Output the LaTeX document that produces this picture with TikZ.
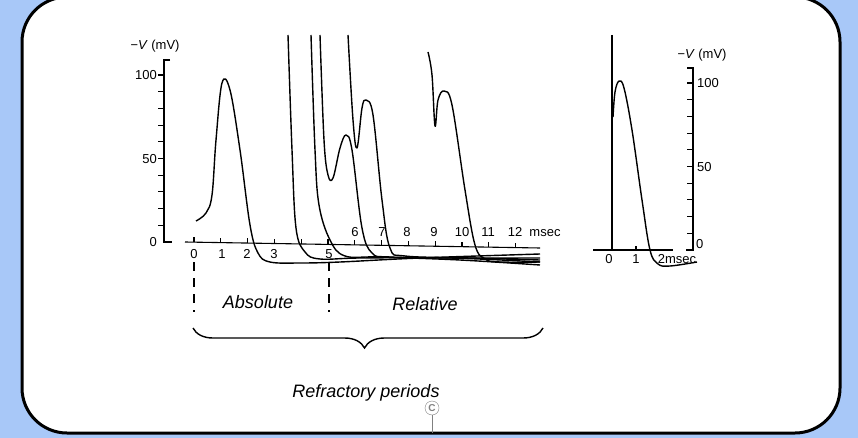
\documentclass[tikz,border=0pt]{standalone}
\usepackage{fontspec}
\setmainfont{Liberation Sans}
\usetikzlibrary{decorations.pathreplacing}
\definecolor{bgblue}{HTML}{A8C8F8}
\begin{document}
\begin{tikzpicture}[x=1pt,y=-1pt,
  curve/.style={line width=1.4pt,line join=round},
  axis/.style={line width=1.1pt},
  lab/.style={font=\fontsize{13}{13}\selectfont,inner sep=0pt},
  big/.style={font=\fontsize{18}{18}\selectfont\itshape,inner sep=0pt}]
\useasboundingbox (0,0) rectangle (858,438);
\fill[bgblue] (0,0) rectangle (858,438);
\draw[line width=3pt,fill=white,rounded corners=45pt] (22,-3) rectangle (840,433);
% left axes
\draw[axis] (170,60) -- (164,60) -- (164,242) -- (172,242);
\foreach \v in {10,20,...,100} \draw[axis] (164,{242-1.67*\v}) -- (158,{242-1.67*\v});
\node[lab] at (155,46) {\textit{−V} (mV)};
\node[lab,anchor=east] at (157,75) {100};
\node[lab,anchor=east] at (157,159) {50};
\node[lab,anchor=east] at (157,242) {0};
\draw[axis] (185,242) -- (540,248);
\foreach \i in {0,...,12}
  \draw[axis] ({194+26.8*\i},{242.15+0.456*\i}) -- ++(0,-5);
\foreach \t/\xx in {0/194,1/222,2/247,3/274,5/329} \node[lab] at (\xx,254) {\t};
\foreach \t/\xx in {6/355,7/382,8/407,9/434,10/462,11/488,12/515} \node[lab] at (\xx,232) {\t};
\node[lab] at (545,233) {msec};
% curves
\draw[curve] plot[smooth,tension=0.6] coordinates {(196,221) (206,213) (212,195) (216,140) (222,83) (230,90) (240,150) (250,225) (258,253) (270,262) (300,263) (340,262) (420,258) (540,254)};
\draw[curve] plot[smooth,tension=0.6] coordinates {(288,35) (292,150) (296,228) (305,252) (320,259) (360,258) (450,258) (540,262)};
\draw[curve] plot[smooth,tension=0.6] coordinates {(311,35) (315,150) (319,205) (330,240) (345,256) (380,257) (460,260) (540,265)};
\draw[curve] plot[smooth,tension=0.6] coordinates {(320,35) (324,140) (328,175) (333,178) (340,148) (346,135) (352,150) (362,228) (372,253) (390,257) (460,258) (540,258)};
\draw[curve] plot[smooth,tension=0.6] coordinates {(348,35) (353,120) (357,148) (362,108) (366,100) (373,115) (382,200) (390,248) (405,256) (470,258) (540,260)};
\draw[curve] plot[smooth,tension=0.6] coordinates {(428,52) (432,75) (435,126) (438,100) (444,91) (452,105) (465,190) (475,245) (485,259) (500,262) (540,262)};
% dashed markers
\draw[line width=1.6pt,dash pattern=on 9pt off 7pt] (194,262) -- (194,312);
\draw[line width=1.6pt,dash pattern=on 9pt off 7pt] (329,262) -- (329,312);
\node[big] at (258,302) {Absolute};
\node[big] at (425,304) {Relative};
\draw[line width=1.4pt,decorate,decoration={brace,mirror,amplitude=20pt,aspect=0.49}] (193,328) -- (543,328);
\node[big] (rp) at (366,393) {Refractory periods};
\draw[gray] (432,415) -- (432,433);
\node[circle,draw=gray,fill=white,minimum size=14pt,inner sep=0pt,font=\fontsize{10}{10}\selectfont\bfseries,text=gray] (cp) at (432,408) {C};
% right chart
\draw[axis] (687,68) -- (693,68) -- (693,250) -- (686,250);
\foreach \v in {10,20,...,100} \draw[axis] (693,{250-1.67*\v}) -- (687,{250-1.67*\v});
\node[lab] at (702,55) {\textit{−V} (mV)};
\node[lab,anchor=west] at (697,83) {100};
\node[lab,anchor=west] at (697,167) {50};
\node[lab,anchor=west] at (696,244) {0};
\draw[axis] (593,250) -- (673,250);
\draw[axis] (636,250) -- ++(0,-4);
\node[lab] at (609,259) {0};
\node[lab] at (636,259) {1};
\node[lab] at (677,259) {2msec};
\draw[curve] (612,35) -- (612,250);
\draw[curve] plot[smooth,tension=0.6] coordinates {(613,117) (615,92) (619,81) (624,88) (632,130) (642,200) (650,250) (658,264) (670,266) (697,262)};
\end{tikzpicture}
\end{document}
